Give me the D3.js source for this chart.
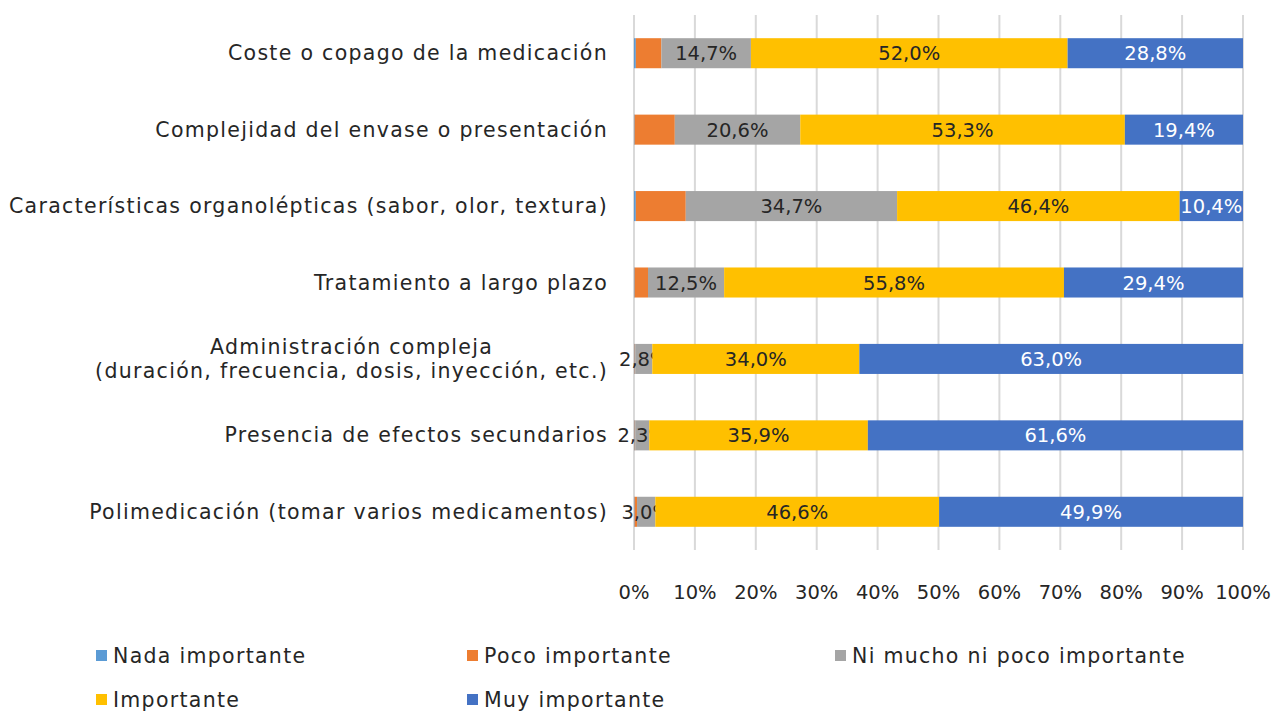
<!DOCTYPE html>
<html>
<head>
<meta charset="utf-8">
<script src="https://cdn.jsdelivr.net/npm/d3@7"></script>
<style>
  body { margin: 0; background: #fff; }
  text { font-family: "DejaVu Sans", sans-serif; }
  .wide { font-size: 20.5px; letter-spacing: 1.3px; }
</style>
</head>
<body>
<div id="chart"></div>
<script>
var svgWidth = 1275;
var svgHeight = 714;

// categories, top to bottom
var categories = [
  "Coste o copago de la medicación",
  "Complejidad del envase o presentación",
  "Características organolépticas (sabor, olor, textura)",
  "Tratamiento a largo plazo",
  "Administración compleja|(duración, frecuencia, dosis, inyección, etc.)",
  "Presencia de efectos secundarios",
  "Polimedicación (tomar varios medicamentos)"
];

var seriesNames = ["Nada importante", "Poco importante", "Ni mucho ni poco importante", "Importante", "Muy importante"];
var seriesColors = ["#5B9BD5", "#ED7D31", "#A5A5A5", "#FFC000", "#4472C4"];

// values in %, one array per series (same order as categories)
var nada      = [0.3, 0.1, 0.3, 0.1, 0.1, 0.1, 0.1];
var poco      = [4.2, 6.6, 8.2, 2.2, 0.1, 0.1, 0.4];
var niMucho   = [14.7, 20.6, 34.7, 12.5, 2.8, 2.3, 3.0];
var importante = [52.0, 53.3, 46.4, 55.8, 34.0, 35.9, 46.6];
var muy       = [28.8, 19.4, 10.4, 29.4, 63.0, 61.6, 49.9];

var tickValues = [0, 10, 20, 30, 40, 50, 60, 70, 80, 90, 100];

var allSeries = [nada, poco, niMucho, importante, muy];
var labelled = [false, false, true, true, true];
var labelColors = ["#262626", "#262626", "#262626", "#262626", "#ffffff"];

var margin = { top: 15, left: 634, right: 32, bottom: 164 };
var width = svgWidth - margin.left - margin.right;
var height = svgHeight - margin.top - margin.bottom;

var svg = d3.select("#chart")
  .append("svg")
  .attr("width", svgWidth)
  .attr("height", svgHeight);

var chartGroup = svg.append("g")
  .attr("transform", `translate(${margin.left}, ${margin.top})`);

var xScale = d3.scaleLinear().domain([0, 100]).range([0, width]);
var yScale = d3.scaleBand().domain(categories).range([0, height]).paddingInner(0.607).paddingOuter(0.3035);

// gridlines
chartGroup.selectAll(".grid")
  .data(tickValues)
  .enter()
  .append("line")
  .attr("x1", d => xScale(d))
  .attr("x2", d => xScale(d))
  .attr("y1", 0)
  .attr("y2", height)
  .attr("stroke", "#D9D9D9")
  .attr("stroke-width", 2);

// stack the rows
var rows = categories.map(function(c, i) {
  var row = { cat: c };
  seriesNames.forEach(function(s, j) { row[s] = allSeries[j][i]; });
  return row;
});
var stacked = d3.stack().keys(seriesNames)(rows);

stacked.forEach(function(layer, j) {
  var g = chartGroup.append("g");
  g.selectAll("rect")
    .data(layer)
    .enter()
    .append("rect")
    .attr("x", d => xScale(d[0]))
    .attr("width", d => xScale(d[1]) - xScale(d[0]))
    .attr("y", d => yScale(d.data.cat))
    .attr("height", yScale.bandwidth())
    .attr("fill", seriesColors[j]);

  if (labelled[j]) {
    g.selectAll("text")
      .data(layer)
      .enter()
      .append("text")
      .attr("x", d => xScale((d[0] + d[1]) / 2))
      .attr("y", d => yScale(d.data.cat) + yScale.bandwidth() / 2 + 7)
      .attr("text-anchor", "middle")
      .attr("font-size", "19.5px")
      .attr("fill", labelColors[j])
      .text(d => (d[1] - d[0]).toFixed(1).replace(".", ",") + "%");
  }
});

// category labels
var catLabels = svg.append("g");
categories.forEach(function(c) {
  var lines = c.split("|");
  var cy = margin.top + yScale(c) + yScale.bandwidth() / 2;
  if (lines.length === 1) {
    catLabels.append("text")
      .attr("class", "wide")
      .attr("x", 608)
      .attr("y", cy + 7)
      .attr("text-anchor", "end")
      .attr("fill", "#262626")
      .text(c);
  } else {
    var second = catLabels.append("text")
      .attr("class", "wide")
      .attr("x", 608)
      .attr("y", cy + 7 + 12)
      .attr("text-anchor", "end")
      .attr("fill", "#262626")
      .text(lines[1]);
    var w = second.node().getComputedTextLength();
    // first line sits roughly centred over the second one
    catLabels.append("text")
      .attr("class", "wide")
      .attr("x", 608 - w / 2)
      .attr("y", cy + 7 - 12)
      .attr("text-anchor", "middle")
      .attr("fill", "#262626")
      .text(lines[0]);
  }
});

// x axis tick labels
chartGroup.append("g")
  .selectAll("text")
  .data(tickValues)
  .enter()
  .append("text")
  .attr("x", d => xScale(d))
  .attr("y", height + 49)
  .attr("text-anchor", "middle")
  .attr("font-size", "19.5px")
  .attr("fill", "#262626")
  .text(d => d + "%");

// legend
var legendPos = [[96, 656], [467, 656], [835, 656], [96, 700], [467, 700]];
var legend = svg.append("g");
seriesNames.forEach(function(s, j) {
  legend.append("rect")
    .attr("x", legendPos[j][0])
    .attr("y", legendPos[j][1] - 6)
    .attr("width", 11)
    .attr("height", 11)
    .attr("fill", seriesColors[j]);
  legend.append("text")
    .attr("class", "wide")
    .attr("x", legendPos[j][0] + 17)
    .attr("y", legendPos[j][1] + 7)
    .attr("fill", "#262626")
    .text(s);
});
</script>
</body>
</html>
